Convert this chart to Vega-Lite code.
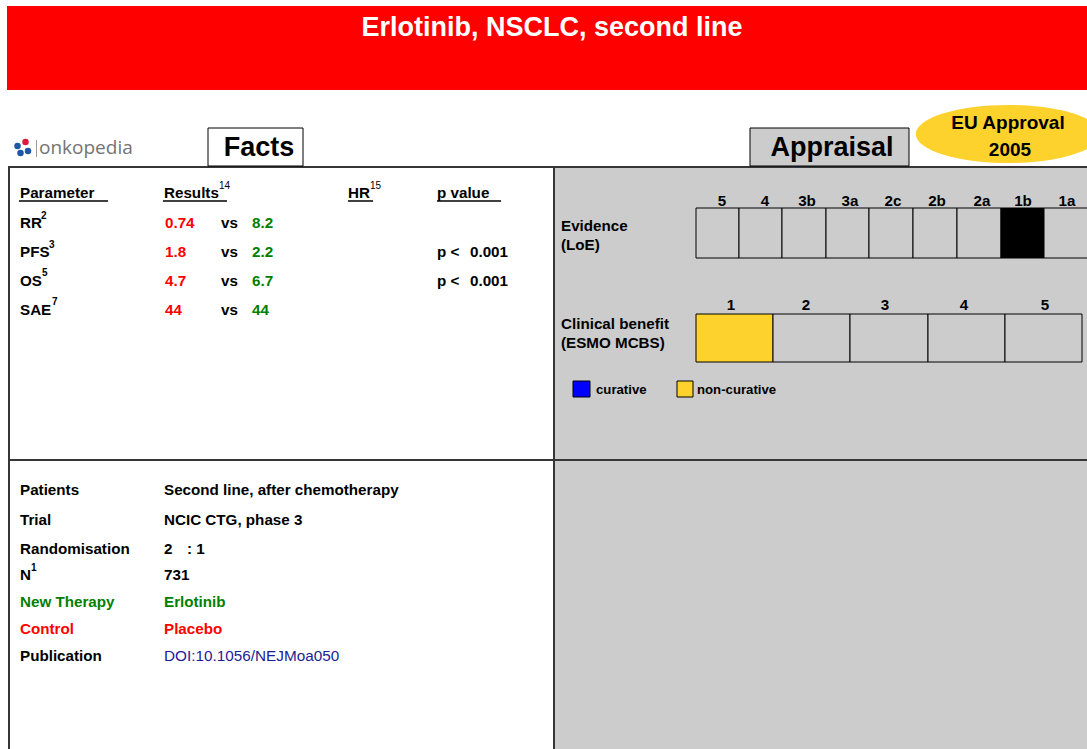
{
  "$schema": "https://vega.github.io/schema/vega-lite/v6.json",
  "width": 1087,
  "height": 749,
  "autosize": {"type": "none"},
  "padding": 0,
  "background": "#ffffff",
  "config": {"view": {"stroke": null}, "font": "Liberation Sans", "text": {"font": "Liberation Sans", "baseline": "middle"}},
  "datasets": {
    "areas": [
      {"x": 7, "x2": 1087, "y": 6, "y2": 90, "kind": "band"},
      {"x": 554, "x2": 1087, "y": 167, "y2": 749, "kind": "panel"}
    ],
    "boxes": [
      {"x": 208, "x2": 303, "y": 128, "y2": 166, "kind": "white"},
      {"x": 750, "x2": 909, "y": 128, "y2": 166, "kind": "cell"},
      {"x": 696, "x2": 739, "y": 208, "y2": 258, "kind": "cell"},
      {"x": 739, "x2": 782, "y": 208, "y2": 258, "kind": "cell"},
      {"x": 782, "x2": 826, "y": 208, "y2": 258, "kind": "cell"},
      {"x": 826, "x2": 869, "y": 208, "y2": 258, "kind": "cell"},
      {"x": 869, "x2": 913, "y": 208, "y2": 258, "kind": "cell"},
      {"x": 913, "x2": 957, "y": 208, "y2": 258, "kind": "cell"},
      {"x": 957, "x2": 1001, "y": 208, "y2": 258, "kind": "cell"},
      {"x": 1001, "x2": 1044, "y": 208, "y2": 258, "kind": "loe"},
      {"x": 1044, "x2": 1088, "y": 208, "y2": 258, "kind": "cell"},
      {"x": 696, "x2": 773, "y": 314, "y2": 362, "kind": "noncurative"},
      {"x": 773, "x2": 850, "y": 314, "y2": 362, "kind": "cell"},
      {"x": 850, "x2": 928, "y": 314, "y2": 362, "kind": "cell"},
      {"x": 928, "x2": 1005, "y": 314, "y2": 362, "kind": "cell"},
      {"x": 1005, "x2": 1082, "y": 314, "y2": 362, "kind": "cell"},
      {"x": 573, "x2": 590, "y": 381, "y2": 397, "kind": "curative"},
      {"x": 677, "x2": 693, "y": 381, "y2": 397, "kind": "noncurative"}
    ],
    "lines": [
      {"x": 8, "x2": 1087, "y": 167, "y2": 167, "kind": "frame"},
      {"x": 9, "x2": 9, "y": 167, "y2": 749, "kind": "frame"},
      {"x": 554, "x2": 554, "y": 167, "y2": 749, "kind": "frame"},
      {"x": 9, "x2": 1087, "y": 460, "y2": 460, "kind": "frame"},
      {"x": 19, "x2": 108, "y": 201, "y2": 201, "kind": "underline"},
      {"x": 163, "x2": 227, "y": 201, "y2": 201, "kind": "underline"},
      {"x": 348, "x2": 373, "y": 201, "y2": 201, "kind": "underline"},
      {"x": 437, "x2": 501, "y": 201, "y2": 201, "kind": "underline"},
      {"x": 36.5, "x2": 36.5, "y": 140, "y2": 157, "kind": "logo"}
    ],
    "dots": [
      {"x": 1008, "y": 134, "kind": "approval"},
      {"x": 17.5, "y": 146, "kind": "logoBlue"},
      {"x": 25.5, "y": 142, "kind": "logoRed"},
      {"x": 20.5, "y": 153, "kind": "logoBlue"},
      {"x": 28, "y": 151, "kind": "logoBlue"}
    ],
    "texts": [
      {"text": "Erlotinib, NSCLC, second line", "x": 552, "y": 28, "role": "title"},
      {"text": "Facts", "x": 259, "y": 148, "role": "heading"},
      {"text": "Appraisal", "x": 832, "y": 148, "role": "heading"},
      {"text": "EU Approval", "x": 1008, "y": 123, "role": "approval"},
      {"text": "2005", "x": 1010, "y": 150, "role": "approval"},
      {"text": "Parameter", "x": 20, "y": 193, "role": "label"},
      {"text": "Results", "x": 164, "y": 193, "role": "label"},
      {"text": "HR", "x": 348, "y": 193, "role": "label"},
      {"text": "p value", "x": 437, "y": 193, "role": "label"},
      {"text": "RR", "x": 20, "y": 223, "role": "label"},
      {"text": "PFS", "x": 20, "y": 252, "role": "label"},
      {"text": "OS", "x": 20, "y": 281, "role": "label"},
      {"text": "SAE", "x": 20, "y": 310, "role": "label"},
      {"text": "vs", "x": 221, "y": 223, "role": "label"},
      {"text": "vs", "x": 221, "y": 252, "role": "label"},
      {"text": "vs", "x": 221, "y": 281, "role": "label"},
      {"text": "vs", "x": 221, "y": 310, "role": "label"},
      {"text": "p <", "x": 437, "y": 252, "role": "label"},
      {"text": "p <", "x": 437, "y": 281, "role": "label"},
      {"text": "0.001", "x": 470, "y": 252, "role": "label"},
      {"text": "0.001", "x": 470, "y": 281, "role": "label"},
      {"text": "Evidence", "x": 561, "y": 226, "role": "label"},
      {"text": "(LoE)", "x": 561, "y": 245, "role": "label"},
      {"text": "Clinical benefit", "x": 561, "y": 324, "role": "label"},
      {"text": "(ESMO MCBS)", "x": 561, "y": 343, "role": "label"},
      {"text": "Patients", "x": 20, "y": 490, "role": "label"},
      {"text": "Second line, after chemotherapy", "x": 164, "y": 490, "role": "label"},
      {"text": "Trial", "x": 20, "y": 520, "role": "label"},
      {"text": "NCIC CTG, phase 3", "x": 164, "y": 520, "role": "label"},
      {"text": "Randomisation", "x": 20, "y": 549, "role": "label"},
      {"text": "2", "x": 164, "y": 549, "role": "label"},
      {"text": ": 1", "x": 187, "y": 549, "role": "label"},
      {"text": "N", "x": 20, "y": 575, "role": "label"},
      {"text": "731", "x": 164, "y": 575, "role": "label"},
      {"text": "Publication", "x": 20, "y": 656, "role": "label"},
      {"text": "0.74", "x": 165, "y": 223, "role": "control"},
      {"text": "1.8", "x": 165, "y": 252, "role": "control"},
      {"text": "4.7", "x": 165, "y": 281, "role": "control"},
      {"text": "44", "x": 165, "y": 310, "role": "control"},
      {"text": "Control", "x": 20, "y": 629, "role": "control"},
      {"text": "Placebo", "x": 164, "y": 629, "role": "control"},
      {"text": "8.2", "x": 252, "y": 223, "role": "new"},
      {"text": "2.2", "x": 252, "y": 252, "role": "new"},
      {"text": "6.7", "x": 252, "y": 281, "role": "new"},
      {"text": "44", "x": 252, "y": 310, "role": "new"},
      {"text": "New Therapy", "x": 20, "y": 602, "role": "new"},
      {"text": "Erlotinib", "x": 164, "y": 602, "role": "new"},
      {"text": "5", "x": 722, "y": 201, "role": "tick"},
      {"text": "4", "x": 765, "y": 201, "role": "tick"},
      {"text": "3b", "x": 807, "y": 201, "role": "tick"},
      {"text": "3a", "x": 850, "y": 201, "role": "tick"},
      {"text": "2c", "x": 893, "y": 201, "role": "tick"},
      {"text": "2b", "x": 937, "y": 201, "role": "tick"},
      {"text": "2a", "x": 982, "y": 201, "role": "tick"},
      {"text": "1b", "x": 1023, "y": 201, "role": "tick"},
      {"text": "1a", "x": 1067, "y": 201, "role": "tick"},
      {"text": "1", "x": 731, "y": 305, "role": "tick"},
      {"text": "2", "x": 806, "y": 305, "role": "tick"},
      {"text": "3", "x": 885, "y": 305, "role": "tick"},
      {"text": "4", "x": 964, "y": 305, "role": "tick"},
      {"text": "5", "x": 1045, "y": 305, "role": "tick"},
      {"text": "curative", "x": 596, "y": 390, "role": "legend"},
      {"text": "non-curative", "x": 697, "y": 390, "role": "legend"},
      {"text": "DOI:10.1056/NEJMoa050", "x": 164, "y": 656, "role": "link"},
      {"text": "onkopedia", "x": 39, "y": 148, "role": "logo"},
      {"text": "14", "x": 219, "y": 186, "role": "sup"},
      {"text": "15", "x": 370, "y": 186, "role": "sup"},
      {"text": "2", "x": 41, "y": 216, "role": "supbold"},
      {"text": "3", "x": 49, "y": 245, "role": "supbold"},
      {"text": "5", "x": 42, "y": 273, "role": "supbold"},
      {"text": "7", "x": 52, "y": 302, "role": "supbold"},
      {"text": "1", "x": 31, "y": 568, "role": "supbold"}
    ]
  },
  "encoding": {
    "x": {"field": "x", "type": "quantitative", "scale": {"domain": [0, 1087], "nice": false, "zero": false}, "axis": null},
    "y": {"field": "y", "type": "quantitative", "scale": {"domain": [0, 749], "reverse": true, "nice": false, "zero": false}, "axis": null}
  },
  "layer": [
    {
      "data": {"name": "areas"},
      "mark": {"type": "rect", "strokeWidth": 0},
      "encoding": {
        "x2": {"field": "x2"},
        "y2": {"field": "y2"},
        "fill": {"field": "kind", "type": "nominal", "legend": null,
          "scale": {"domain": ["band", "panel"], "range": ["#ff0000", "#cccccc"]}}
      }
    },
    {
      "data": {"name": "lines"},
      "transform": [{"filter": "datum.kind === 'frame'"}],
      "mark": {"type": "rule", "color": "#363636", "strokeWidth": 2},
      "encoding": {"x2": {"field": "x2"}, "y2": {"field": "y2"}}
    },
    {
      "data": {"name": "lines"},
      "transform": [{"filter": "datum.kind === 'underline'"}],
      "mark": {"type": "rule", "color": "#000000", "strokeWidth": 1.5},
      "encoding": {"x2": {"field": "x2"}, "y2": {"field": "y2"}}
    },
    {
      "data": {"name": "lines"},
      "transform": [{"filter": "datum.kind === 'logo'"}],
      "mark": {"type": "rule", "color": "#9a9a9a", "strokeWidth": 1},
      "encoding": {"x2": {"field": "x2"}, "y2": {"field": "y2"}}
    },
    {
      "data": {"name": "boxes"},
      "mark": {"type": "rect", "stroke": "#000000", "strokeWidth": 1},
      "encoding": {
        "x2": {"field": "x2"},
        "y2": {"field": "y2"},
        "fill": {"field": "kind", "type": "nominal", "legend": null,
          "scale": {"domain": ["white", "cell", "loe", "noncurative", "curative"], "range": ["#ffffff", "#cccccc", "#000000", "#fdd22d", "#0000ff"]}}
      }
    },
    {
      "data": {"name": "dots"},
      "transform": [{"filter": "datum.kind === 'approval'"}],
      "mark": {"type": "point", "filled": true, "opacity": 1, "size": 34000, "color": "#fdd22d",
        "shape": "M -1 0 A 1 0.315 0 1 0 1 0 A 1 0.315 0 1 0 -1 0 Z"}
    },
    {
      "data": {"name": "dots"},
      "transform": [{"filter": "datum.kind !== 'approval'"}],
      "mark": {"type": "circle", "opacity": 1, "size": 42},
      "encoding": {
        "color": {"field": "kind", "type": "nominal", "legend": null,
          "scale": {"domain": ["logoBlue", "logoRed"], "range": ["#1d57a5", "#e0173f"]}}
      }
    },
    {
      "data": {"name": "texts"},
      "transform": [{"filter": "datum.role === 'title'"}],
      "mark": {"type": "text", "fontSize": 27, "fontWeight": "bold", "align": "center", "color": "#ffffff"},
      "encoding": {"text": {"field": "text"}}
    },
    {
      "data": {"name": "texts"},
      "transform": [{"filter": "datum.role === 'heading'"}],
      "mark": {"type": "text", "fontSize": 27, "fontWeight": "bold", "align": "center", "color": "#000000"},
      "encoding": {"text": {"field": "text"}}
    },
    {
      "data": {"name": "texts"},
      "transform": [{"filter": "datum.role === 'approval'"}],
      "mark": {"type": "text", "fontSize": 19, "fontWeight": "bold", "align": "center", "color": "#000000"},
      "encoding": {"text": {"field": "text"}}
    },
    {
      "data": {"name": "texts"},
      "transform": [{"filter": "datum.role === 'label'"}],
      "mark": {"type": "text", "fontSize": 15.2, "fontWeight": "bold", "align": "left", "color": "#000000"},
      "encoding": {"text": {"field": "text"}}
    },
    {
      "data": {"name": "texts"},
      "transform": [{"filter": "datum.role === 'control'"}],
      "mark": {"type": "text", "fontSize": 15.2, "fontWeight": "bold", "align": "left", "color": "#ff0000"},
      "encoding": {"text": {"field": "text"}}
    },
    {
      "data": {"name": "texts"},
      "transform": [{"filter": "datum.role === 'new'"}],
      "mark": {"type": "text", "fontSize": 15.2, "fontWeight": "bold", "align": "left", "color": "#008000"},
      "encoding": {"text": {"field": "text"}}
    },
    {
      "data": {"name": "texts"},
      "transform": [{"filter": "datum.role === 'tick'"}],
      "mark": {"type": "text", "fontSize": 15.2, "fontWeight": "bold", "align": "center", "color": "#000000"},
      "encoding": {"text": {"field": "text"}}
    },
    {
      "data": {"name": "texts"},
      "transform": [{"filter": "datum.role === 'legend'"}],
      "mark": {"type": "text", "fontSize": 13.2, "fontWeight": "bold", "align": "left", "color": "#000000"},
      "encoding": {"text": {"field": "text"}}
    },
    {
      "data": {"name": "texts"},
      "transform": [{"filter": "datum.role === 'link'"}],
      "mark": {"type": "text", "fontSize": 15.3, "fontWeight": "normal", "align": "left", "color": "#1c1c96"},
      "encoding": {"text": {"field": "text"}}
    },
    {
      "data": {"name": "texts"},
      "transform": [{"filter": "datum.role === 'logo'"}],
      "mark": {"type": "text", "font": "Open Sans", "fontSize": 19, "fontWeight": "normal", "align": "left", "color": "#737373"},
      "encoding": {"text": {"field": "text"}}
    },
    {
      "data": {"name": "texts"},
      "transform": [{"filter": "datum.role === 'sup'"}],
      "mark": {"type": "text", "fontSize": 10, "fontWeight": "normal", "align": "left", "color": "#000000"},
      "encoding": {"text": {"field": "text"}}
    },
    {
      "data": {"name": "texts"},
      "transform": [{"filter": "datum.role === 'supbold'"}],
      "mark": {"type": "text", "fontSize": 10, "fontWeight": "bold", "align": "left", "color": "#000000"},
      "encoding": {"text": {"field": "text"}}
    }
  ],
  "resolve": {"scale": {"fill": "independent", "color": "independent"}}
}
